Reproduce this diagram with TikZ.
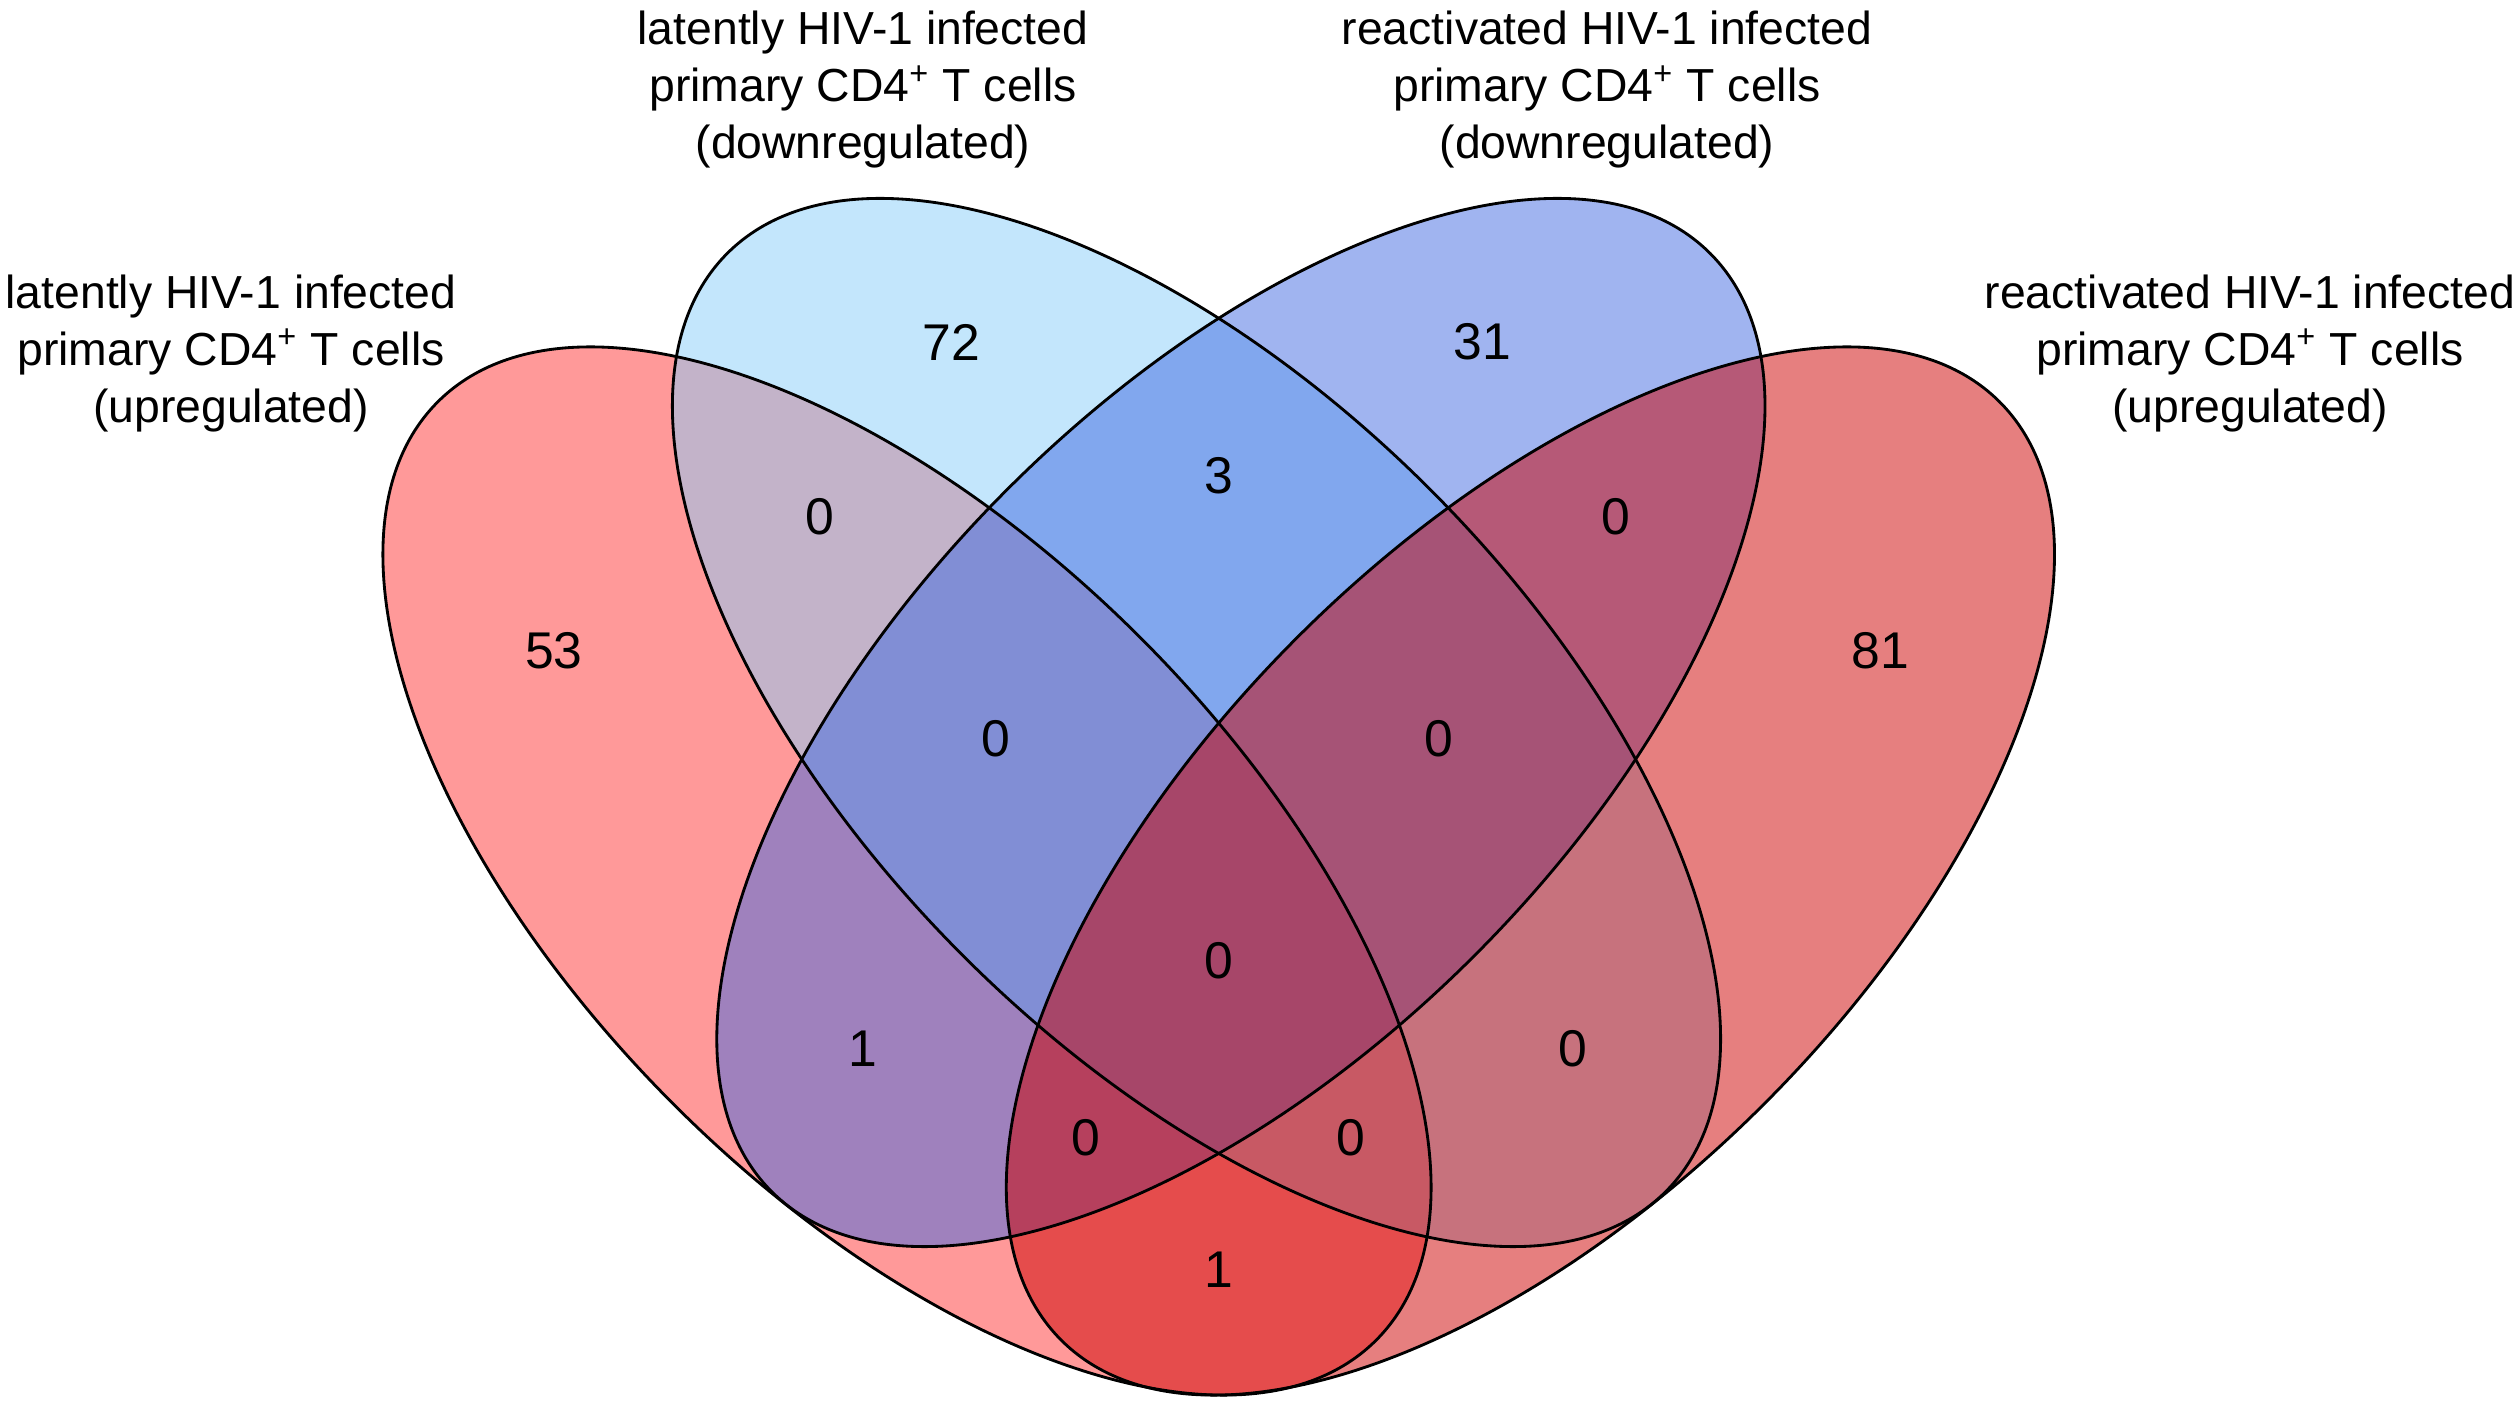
\documentclass[tikz,border=0pt]{standalone}
\usepackage{fontspec}
\setmainfont{Liberation Sans}
\definecolor{colA}{RGB}{255,51,51}
\definecolor{colB}{RGB}{135,206,250}
\definecolor{colC}{RGB}{65,105,225}
\definecolor{colD}{RGB}{205,0,0}
\begin{document}
\begin{tikzpicture}[
  setfill/.style={fill opacity=0.5, draw=none},
  setline/.style={draw=black, line width=0.85pt},
  num/.style={font=\fontsize{15.5}{18}\selectfont, inner sep=0pt},
  lab/.style={font=\fontsize{13.9}{16.8}\selectfont, inner sep=0pt, anchor=base},
  ellA/.style={x radius=199.05pt, y radius=99pt, rotate=-45},
  ellD/.style={x radius=199.05pt, y radius=99pt, rotate=45},
]
\useasboundingbox (0,0) rectangle (756pt,420.9pt);
\coordinate (cenA) at (272.10pt,159.60pt);
\coordinate (cenB) at (358.95pt,204.15pt);
\coordinate (cenC) at (372.27pt,204.15pt);
\coordinate (cenD) at (459.12pt,159.60pt);
% fills
\fill[colA, setfill] (cenA) ellipse [ellA];
\fill[colB, setfill] (cenB) ellipse [ellA];
\fill[colC, setfill] (cenC) ellipse [ellD];
\fill[colD, setfill] (cenD) ellipse [ellD];
% outlines
\draw[setline] (cenA) ellipse [ellA];
\draw[setline] (cenB) ellipse [ellA];
\draw[setline] (cenC) ellipse [ellD];
\draw[setline] (cenD) ellipse [ellD];
% numbers
\node[num] (nB)    at (285.3pt,318.3pt) {72};
\node[num] (nC)    at (444.6pt,318.3pt) {31};
\node[num] (nBC)   at (365.6pt,278.1pt) {3};
\node[num] (nAB)   at (246.0pt,265.8pt) {0};
\node[num] (nCD)   at (484.8pt,265.8pt) {0};
\node[num] (nA)    at (166.2pt,225.6pt) {53};
\node[num] (nD)    at (564.0pt,225.6pt) {81};
\node[num] (nABC)  at (298.8pt,199.2pt) {0};
\node[num] (nBCD)  at (431.7pt,199.2pt) {0};
\node[num] (nABCD) at (365.6pt,132.6pt) {0};
\node[num] (nAC)   at (258.9pt,106.2pt) {1};
\node[num] (nBD)   at (471.9pt,106.2pt) {0};
\node[num] (nACD)  at (325.8pt,79.5pt) {0};
\node[num] (nABD)  at (405.3pt,79.5pt) {0};
\node[num] (nAD)   at (365.6pt,39.9pt) {1};
% labels
\node[lab] (la1) at (69.3pt,328.4pt) {latently HIV-1 infected};
\node[lab] (la2) at (69.3pt,311.3pt) {primary CD4\textsuperscript{+} T cells};
\node[lab] (la3) at (69.3pt,294.2pt) {(upregulated)};
\node[lab] (lb1) at (258.9pt,407.4pt) {latently HIV-1 infected};
\node[lab] (lb2) at (258.9pt,390.3pt) {primary CD4\textsuperscript{+} T cells};
\node[lab] (lb3) at (258.9pt,373.2pt) {(downregulated)};
\node[lab] (lc1) at (482.1pt,407.4pt) {reactivated HIV-1 infected};
\node[lab] (lc2) at (482.1pt,390.3pt) {primary CD4\textsuperscript{+} T cells};
\node[lab] (lc3) at (482.1pt,373.2pt) {(downregulated)};
\node[lab] (ld1) at (675.0pt,328.4pt) {reactivated HIV-1 infected};
\node[lab] (ld2) at (675.0pt,311.3pt) {primary CD4\textsuperscript{+} T cells};
\node[lab] (ld3) at (675.0pt,294.2pt) {(upregulated)};
\end{tikzpicture}
\end{document}
